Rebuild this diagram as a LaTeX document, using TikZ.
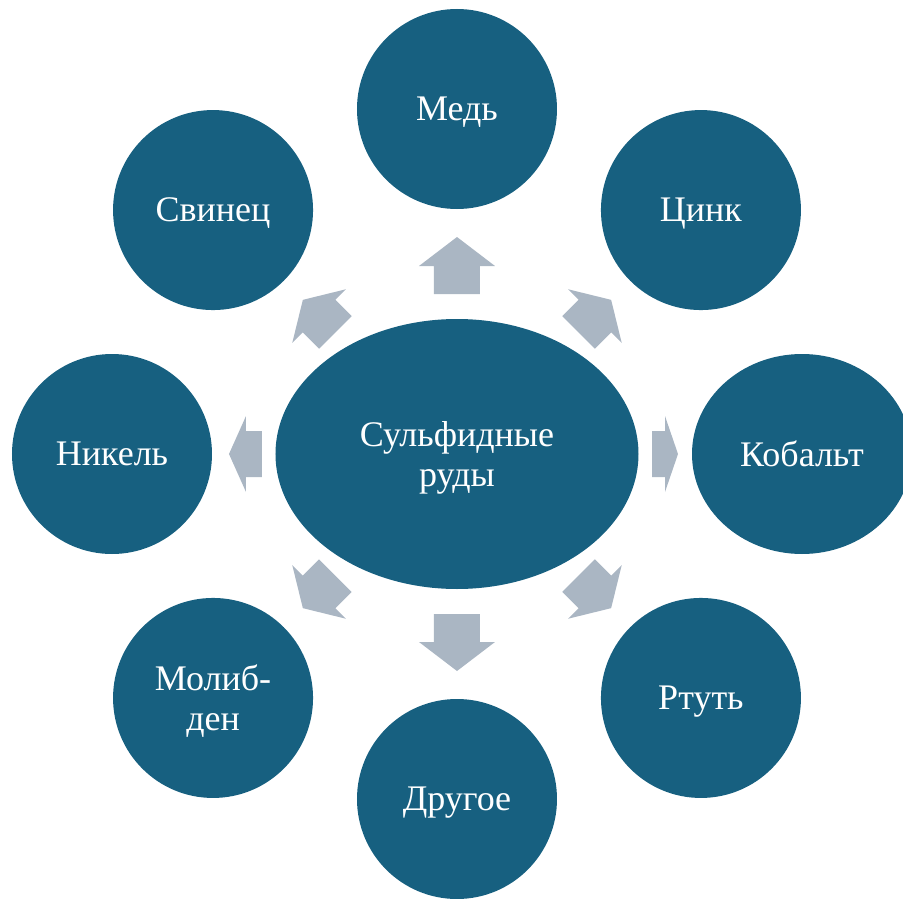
\documentclass[tikz,border=0pt]{standalone}
\usepackage{fontspec}
\setmainfont{Liberation Serif}
\usepackage{tikz}
\usetikzlibrary{shapes,positioning}
\usepackage{xcolor}
\definecolor{oreblue}{RGB}{23,96,128}
\definecolor{oregray}{RGB}{170,182,195}
\tikzstyle{metal} = [circle, fill=oreblue, text=white, minimum size=200pt, inner sep=0pt, align=center, text depth=0pt, font=\fontsize{36}{40}\selectfont]
\tikzstyle{pointer} = [fill=oregray]

\begin{document}
\begin{tikzpicture}[x=1pt,y=1pt]
\useasboundingbox (-457,-444) rectangle (446,454);
\clip (-457,-444) rectangle (446,454);

% Ores (center)
\node[metal, ellipse, minimum width=363pt, minimum height=270pt] (ores) at (0,0) {Сульфидные\\руды};

% Metals
\node[metal] (med) at (90:345) {Медь};
\node[metal] (cink) at (45:345) {Цинк};
\node[metal, ellipse, minimum width=220pt, minimum height=200pt] (kobalt) at (0:345) {Кобальт};
\node[metal] (rtut) at (-45:345) {Ртуть};
\node[metal] (drugoe) at (-90:345) {Другое};
\node[metal] (molibden) at (-135:345) {Молиб-\\ден};
\node[metal] (nikel) at (180:345) {Никель};
\node[metal] (svinec) at (135:345) {Свинец};

% Block arrows
\foreach \a/\ra/\rb/\h in {90/160/217/29, 45/172/218/23, 0/195/221/13, -45/172/218/23,
                           -90/160/217/29, -135/172/218/23, 180/195/228/17, 135/172/218/23} {
    \fill[pointer, rotate=\a] (\ra,-23) -- (\rb-\h,-23) -- (\rb-\h,-38) -- (\rb,0)
        -- (\rb-\h,38) -- (\rb-\h,23) -- (\ra,23) -- cycle;
}
\end{tikzpicture}
\end{document}
